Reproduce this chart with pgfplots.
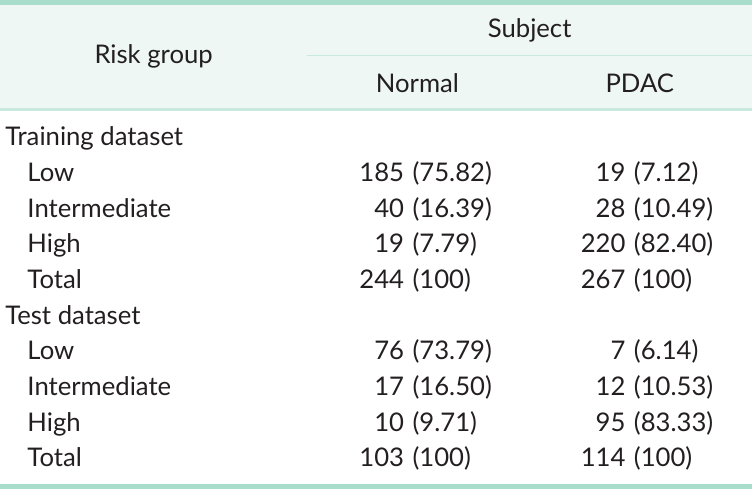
\documentclass[border=0pt]{standalone}
\usepackage{pgfplots}
\pgfplotsset{compat=1.18}
\usepackage{pgfplotstable}
\usepackage{fontspec}
\setmainfont{Lato}
\definecolor{rulec}{HTML}{A8DCCB}
\definecolor{thinc}{HTML}{C8E9DE}
\definecolor{headbg}{HTML}{EEF7F4}
\definecolor{txt}{HTML}{231F20}

% y = baseline position (pixels from top)
\pgfplotstableread{
y   n   p        m   q
183 185 (75.82)  19  (7.12)
218 40  (16.39)  28  (10.49)
253 19  (7.79)   220 (82.40)
288 244 (100)    267 (100)
359 76  (73.79)  7   (6.14)
394 17  (16.50)  12  (10.53)
430 10  (9.71)   95  (83.33)
465 103 (100)    114 (100)
}\data

\begin{document}
\begin{tikzpicture}[font=\fontsize{25.5}{30}\selectfont, text=txt]
\begin{axis}[
  width=752bp, height=490bp, scale only axis,
  xmin=0, xmax=752, ymin=0, ymax=490, y dir=reverse,
  hide axis, clip=false,
  nodes near coords={\pgfplotspointmeta},
  point meta=explicit symbolic,
]
% header background and rules
\fill[headbg] (axis cs:4,8) rectangle (axis cs:748,110);
\fill[rulec] (axis cs:4,3) rectangle (axis cs:748,8);
\fill[thinc] (axis cs:4,110) rectangle (axis cs:748,112.5);
\fill[thinc] (axis cs:308,57) rectangle (axis cs:748,58.5);
\fill[rulec] (axis cs:4,482) rectangle (axis cs:748,487);

% header text
\node[anchor=base] at (axis cs:156,66) {Risk group};
\node[anchor=base] at (axis cs:528,40) {Subject};
\node[anchor=base] at (axis cs:417,95) {Normal};
\node[anchor=base] at (axis cs:637,95) {PDAC};

% row labels
\node[anchor=base west, inner sep=0pt] at (axis cs:9,147) {Training dataset};
\node[anchor=base west, inner sep=0pt] at (axis cs:31,183) {Low};
\node[anchor=base west, inner sep=0pt] at (axis cs:31,218) {Intermediate};
\node[anchor=base west, inner sep=0pt] at (axis cs:31,253) {High};
\node[anchor=base west, inner sep=0pt] at (axis cs:31,288) {Total};
\node[anchor=base west, inner sep=0pt] at (axis cs:9,324) {Test dataset};
\node[anchor=base west, inner sep=0pt] at (axis cs:31,359) {Low};
\node[anchor=base west, inner sep=0pt] at (axis cs:31,394) {Intermediate};
\node[anchor=base west, inner sep=0pt] at (axis cs:31,430) {High};
\node[anchor=base west, inner sep=0pt] at (axis cs:31,465) {Total};

% data cells
\addplot[draw=none, mark=none, every node near coord/.append style={anchor=base east, inner sep=0pt, text=txt}]
  table[x expr=404, y=y, meta=n] {\data};
\addplot[draw=none, mark=none, every node near coord/.append style={anchor=base west, inner sep=0pt, text=txt}]
  table[x expr=412, y=y, meta=p] {\data};
\addplot[draw=none, mark=none, every node near coord/.append style={anchor=base east, inner sep=0pt, text=txt}]
  table[x expr=623, y=y, meta=m] {\data};
\addplot[draw=none, mark=none, every node near coord/.append style={anchor=base west, inner sep=0pt, text=txt}]
  table[x expr=631, y=y, meta=q] {\data};
\end{axis}
\end{tikzpicture}
\end{document}
